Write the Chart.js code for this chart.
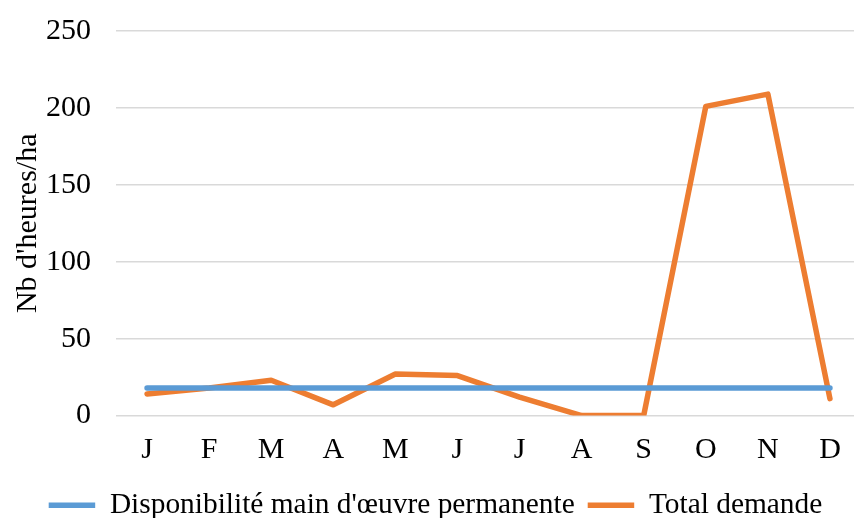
<!DOCTYPE html>
<html>
<head>
<meta charset="utf-8">
<script src="https://cdn.jsdelivr.net/npm/chart.js@4.4.1/dist/chart.umd.min.js"></script>
<style>
  html, body { margin: 0; padding: 0; background: #fff; overflow: hidden; }
  #wrap { width: 861px; height: 542px; margin-top: -12px; }
</style>
</head>
<body>
<div id="wrap"><canvas id="graphique"></canvas></div>
<script>
// Données du graphique
const mois = ['J', 'F', 'M', 'A', 'M', 'J', 'J', 'A', 'S', 'O', 'N', 'D'];
const disponibilite = [18, 18, 18, 18, 18, 18, 18, 18, 18, 18, 18, 18];
const totalDemande = [14, 18, 23, 7, 27, 26, 12, 0, 0, 201, 209, 11];

const police = "'Liberation Serif', 'Times New Roman', serif";

const ctx = document.getElementById('graphique').getContext('2d');
const graphique = new Chart(ctx, {
  type: 'line',
  data: {
    labels: mois,
    datasets: [
      {
        label: "Disponibilité main d'œuvre permanente",
        data: disponibilite,
        borderColor: '#5b9bd5',
        backgroundColor: '#5b9bd5',
        borderWidth: 5.5,
        pointRadius: 0,
        borderCapStyle: 'round',
        tension: 0
      },
      {
        label: 'Total demande',
        data: totalDemande,
        borderColor: '#ed7d31',
        backgroundColor: '#ed7d31',
        borderWidth: 5.5,
        pointRadius: 0,
        borderCapStyle: 'round',
        borderJoinStyle: 'round',
        tension: 0
      }
    ]
  },
  options: {
    responsive: true,
    maintainAspectRatio: false,
    animation: false,
    layout: { padding: { top: 0, right: 0, left: 10, bottom: 0 } },
    plugins: {
      tooltip: { enabled: false },
      legend: {
        position: 'bottom',
        labels: {
          usePointStyle: true,
          pointStyle: 'line',
          pointStyleWidth: 46.5,
          color: '#000',
          padding: 13,
          font: { family: police, size: 29.4 }
        }
      }
    },
    scales: {
      x: {
        offset: true,
        grid: { display: false },
        border: { display: false },
        ticks: {
          color: '#000',
          maxRotation: 0,
          padding: 12,
          font: { family: police, size: 30, lineHeight: 1 }
        }
      },
      y: {
        min: 0,
        max: 250,
        border: { display: false },
        grid: { color: '#d9d9d9', lineWidth: 1.5, drawTicks: false },
        ticks: {
          stepSize: 50,
          color: '#000',
          padding: 25,
          font: { family: police, size: 30 }
        },
        title: {
          display: true,
          text: "Nb d'heures/ha",
          color: '#000',
          font: { family: police, size: 30 },
          padding: { top: 0, bottom: -25 }
        }
      }
    }
  }
});
</script>
</body>
</html>
